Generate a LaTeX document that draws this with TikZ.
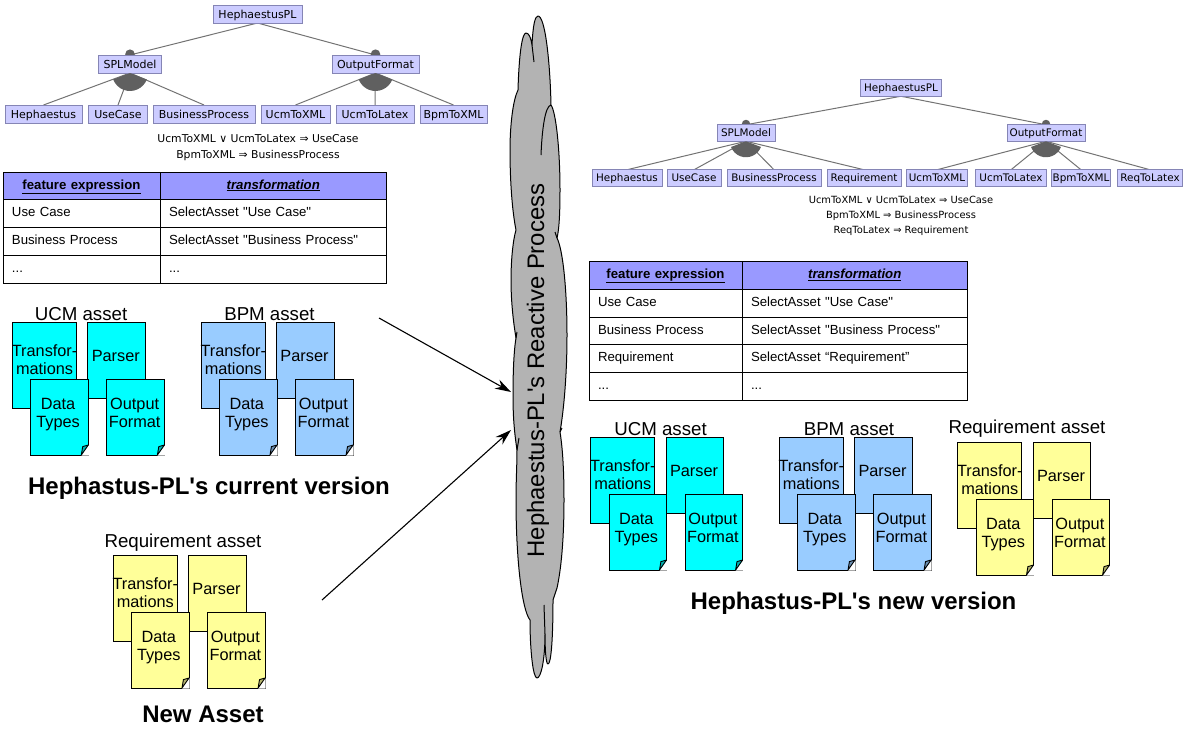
\documentclass[tikz,border=0pt]{standalone}
\usepackage{fontspec}
\setmainfont{Liberation Sans}[Ligatures=TeXOff]
\newfontfamily\djv{DejaVu Sans}
\usetikzlibrary{arrows.meta,backgrounds}
\definecolor{fbox}{HTML}{CCCCFF}
\definecolor{fborder}{HTML}{8585B5}
\definecolor{fline}{HTML}{737373}
\definecolor{fdark}{HTML}{606060}
\definecolor{thead}{HTML}{9999FF}
\definecolor{cyanA}{HTML}{00FFFF}
\definecolor{blueA}{HTML}{99CCFF}
\definecolor{yellowA}{HTML}{FFFF99}
\definecolor{cloudgray}{HTML}{B3B3B3}
\tikzset{
  x=1pt,y=-1pt,
  fnode/.style={draw=fborder,fill=fbox,line width=0.9pt,inner sep=0pt,outer sep=0pt,text=black},
  bigtree/.style={fnode,minimum height=18pt,text height=10.6pt,text depth=2pt,font=\djv\fontsize{11}{12}\selectfont},
  smalltree/.style={fnode,minimum height=16.5pt,text height=9.6pt,text depth=2pt,font=\djv\fontsize{10.4}{11}\selectfont},
  fline/.style={draw=fline,line width=1pt},
  cons/.style={inner sep=0pt,font=\djv\fontsize{#1}{12}\selectfont},
  cell/.style={draw=black,line width=1pt,anchor=north west,text width=#1pt,inner xsep=9pt,inner ysep=0pt,outer sep=0pt,minimum height=28pt,text height=10pt,text depth=3pt,align=left,font=\fontsize{13.2}{15}\selectfont},
  hcell/.style={cell=#1,fill=thead,align=center},
  docbox/.style={draw=black,line width=1pt,anchor=north west,inner sep=0pt,outer sep=0pt,align=center,font=\fontsize{16.3}{18}\selectfont,text=black},
  atitle/.style={inner sep=0pt,font=\fontsize{18.7}{20}\selectfont},
  bigtitle/.style={inner sep=0pt,font=\bfseries\fontsize{24}{26}\selectfont},
  bigarrow/.style={draw=black,line width=1.1pt,-{Stealth[length=16pt,width=10pt]}},
}
\newcommand{\foldcorner}[3]{% x y colour : bottom right corner of a page
  \fill[white] (#1,#2)++(-7,0.6) -- ++(7.6,-10.6) -- ++(0,10.6) -- cycle;
  \draw[line width=0.9pt,fill=#3!70!black,line join=round] (#1,#2)++(-7,0) -- ++(7,-10) -- ++(-5.6,1.6) -- cycle;
}
\newcommand{\docpage}[6]{% name, x offset, y offset, height, colour, text
  \node[docbox,fill=#5,minimum width=57.5pt,minimum height=#4pt] (#1) at (#2,#3) {#6};
}
\newcommand{\assetgroup}[4]{% prefix, x, y, colour
  \begin{scope}[shift={(#2,#3)}]
    \node[docbox,fill=#4,minimum width=64.3pt,minimum height=86pt] (#1-tr) at (0,0) {};
    \docpage{#1-pa}{75.5}{0}{76}{#4}{}
    \node[inner sep=0pt,align=center,font=\fontsize{16.3}{18}\selectfont] (#1-trt) at (32.3,38) {Transfor-\\mations};
    \node[inner sep=0pt,font=\fontsize{16.3}{18}\selectfont] (#1-pat) at (103.5,34) {Parser};
    \docpage{#1-dt}{18.5}{57}{76}{#4}{\rule{0pt}{13pt}Data\hspace*{3pt}\\Types\hspace*{3pt}\rule[-10pt]{0pt}{10pt}}
    \foldcorner{76}{133}{#4}
    \docpage{#1-of}{94.6}{57}{76}{#4}{\rule{0pt}{13pt}Output\hspace*{2pt}\\Format\hspace*{2pt}\rule[-10pt]{0pt}{10pt}}
    \foldcorner{152.100}{133}{#4}
  \end{scope}
}
\newcommand{\fanout}[2]{% apex node, radius: the grey sector under a group
  \fill[fdark] (#1.south) -- ++(21:#2) arc[start angle=21,end angle=159,radius=#2] -- cycle;
}
\newcommand{\mandot}[2]{% node, radius: the dot on top of a mandatory feature
  \fill[fdark] (#1.north)++(0,-0.8) circle[radius=#2];
}
\begin{document}
\begin{tikzpicture}
\useasboundingbox (0,0) rectangle (1192,734);
% ---- left feature tree
\node[bigtree,minimum width=89pt] (lroot) at (257.5,14) {HephaestusPL};
\node[bigtree,minimum width=63pt] (lspl) at (130,64) {SPLModel};
\node[bigtree,minimum width=87pt] (lof) at (375.5,64) {OutputFormat};
\node[bigtree,minimum width=77pt] (lhep) at (43.5,114) {Hephaestus};
\node[bigtree,minimum width=59pt] (luc) at (118,114) {UseCase};
\node[bigtree,minimum width=102pt] (lbp) at (204,114) {BusinessProcess};
\node[bigtree,minimum width=69pt] (lux) at (295.5,114) {UcmToXML};
\node[bigtree,minimum width=78pt] (lul) at (375,114) {UcmToLatex};
\node[bigtree,minimum width=67pt] (lbx) at (453.5,114) {BpmToXML};
\begin{scope}[on background layer]
\draw[fline] (lroot.south) -- (lspl.north);
\draw[fline] (lroot.south) -- (lof.north);
\mandot{lspl}{4.8}\mandot{lof}{4.8}
\foreach \c in {lhep,luc,lbp} \draw[fline] (lspl.south) -- (\c.north);
\foreach \c in {lux,lul,lbx} \draw[fline] (lof.south) -- (\c.north);
\end{scope}
\fanout{lspl}{18}\fanout{lof}{18}
\node[cons=10.8] (lc1) at (258,139) {UcmToXML ∨ UcmToLatex ⇒ UseCase};
\node[cons=10.8] (lc2) at (258,155.500) {BpmToXML ⇒ BusinessProcess};
% ---- left table
\node[hcell=139,minimum height=27pt] (lt11) at (3,172) {\textbf{\underline{feature expression}}};
\node[hcell=208.5,minimum height=27pt] (lt12) at (160,172) {\textbf{\textit{\underline{transformation}}}};
\node[cell=139] (lt21) at (3,199) {Use Case};
\node[cell=208.5] (lt22) at (160,199) {SelectAsset "Use Case"};
\node[cell=139] (lt31) at (3,227) {Business Process};
\node[cell=208.5] (lt32) at (160,227) {SelectAsset "Business Process"};
\node[cell=139] (lt41) at (3,255) {...};
\node[cell=208.5] (lt42) at (160,255) {...};
% ---- left assets
\node[atitle] (lucm) at (81,314) {UCM asset};
\node[atitle] (lbpm) at (269.500,314) {BPM asset};
\assetgroup{lu}{12.3}{322}{cyanA}
\assetgroup{lb}{201}{322}{blueA}
\node[bigtitle] (lcur) at (209,488.500) {Hephastus-PL's current version};
\node[atitle] (lreq) at (183,542.500) {Requirement asset};
\assetgroup{ln}{113}{555}{yellowA}
\node[bigtitle] (lnew) at (203,714) {New Asset};
% ---- cloud
\draw[line width=1pt,fill=cloudgray,line join=round] (518,90)
  .. controls (519,55) and (522,33) .. (526,33) .. controls (529,33) and (531,38) .. (532,45)
  .. controls (533,25) and (535,16) .. (538,16) .. controls (545,16) and (550,60) .. (551,105)
  .. controls (556,112) and (560,150) .. (560,190) .. controls (560,215) and (559,230) .. (557,238)
  .. controls (563,250) and (567,290) .. (567,335) .. controls (567,380) and (563,415) .. (560,432)
  .. controls (563,450) and (564,475) .. (564,500) .. controls (564,540) and (561,570) .. (557,588)
  -- (553,600) .. controls (553,640) and (551,664) .. (548,664) .. controls (546,664) and (545,650) .. (545,634)
  .. controls (545,660) and (541,678) .. (537,678) .. controls (533,678) and (530,650) .. (530,620)
  .. controls (522,610) and (516,560) .. (516,500) .. controls (516,480) and (517,465) .. (517,450)
  .. controls (514,430) and (513,415) .. (513,395) .. controls (513,370) and (514,350) .. (516,338)
  .. controls (513,320) and (511,300) .. (511,280) .. controls (511,260) and (513,240) .. (516,230)
  .. controls (512,210) and (510,180) .. (510,150) .. controls (510,125) and (513,100) .. (518,90) -- cycle;
\draw[line width=1pt] (532,45) -- (534,62);
\draw[line width=1pt] (541,155) .. controls (542,130) and (545,106) .. (551,105);
\draw[line width=1pt] (557,238) -- (555,232);
\draw[line width=1pt] (545,634) -- (544,605);
\draw[line width=1pt] (517,450) -- (519,438);
\draw[line width=1pt] (560,432) -- (562,428);
\draw[line width=1pt] (516,338) -- (517,332);
\node[rotate=90,inner sep=0pt,font=\fontsize{23.9}{26}\selectfont] (cloudtext) at (538,370.500) {Hephaestus-PL's Reactive Process};
% ---- arrows
\coordinate (fromcur) at (379,318);
\coordinate (tocloudA) at (511,392);
\coordinate (fromnew) at (322,600);
\coordinate (tocloudB) at (511,430);
\draw[bigarrow] (fromcur) -- (tocloudA);
\draw[bigarrow] (fromnew) -- (tocloudB);
% ---- right feature tree
\node[smalltree,minimum width=81pt] (rroot) at (901,88) {HephaestusPL};
\node[smalltree,minimum width=58pt] (rspl) at (746,133) {SPLModel};
\node[smalltree,minimum width=78pt] (rof) at (1046,133) {OutputFormat};
\node[smalltree,minimum width=70pt] (rhep) at (627,178) {Hephaestus};
\node[smalltree,minimum width=54pt] (ruc) at (694,178) {UseCase};
\node[smalltree,minimum width=94pt] (rbp) at (774,178) {BusinessProcess};
\node[smalltree,minimum width=74pt] (rrq) at (864,178) {Requirement};
\node[smalltree,minimum width=61pt] (rux) at (937,178) {UcmToXML};
\node[smalltree,minimum width=71pt] (rul) at (1011,178) {UcmToLatex};
\node[smalltree,minimum width=59pt] (rbx) at (1081,178) {BpmToXML};
\node[smalltree,minimum width=65pt] (rrl) at (1150,178) {ReqToLatex};
\begin{scope}[on background layer]
\draw[fline] (rroot.south) -- (rspl.north);
\draw[fline] (rroot.south) -- (rof.north);
\mandot{rspl}{4.2}\mandot{rof}{4.2}
\foreach \c in {rhep,ruc,rbp,rrq} \draw[fline] (rspl.south) -- (\c.north);
\foreach \c in {rux,rul,rbx,rrl} \draw[fline] (rof.south) -- (\c.north);
\end{scope}
\fanout{rspl}{16}\fanout{rof}{16}
\node[cons=9.9] (rc1) at (901,200) {UcmToXML ∨ UcmToLatex ⇒ UseCase};
\node[cons=9.9] (rc2) at (901,215.500) {BpmToXML ⇒ BusinessProcess};
\node[cons=9.9] (rc3) at (901,231) {ReqToLatex ⇒ Requirement};
% ---- right table
\node[hcell=135] (rt11) at (589,261) {\textbf{\underline{feature expression}}};
\node[hcell=207.5] (rt12) at (742,261) {\textbf{\textit{\underline{transformation}}}};
\node[cell=135] (rt21) at (589,289) {Use Case};
\node[cell=207.5] (rt22) at (742,289) {SelectAsset "Use Case"};
\node[cell=135,minimum height=27pt] (rt31) at (589,317) {Business Process};
\node[cell=207.5,minimum height=27pt] (rt32) at (742,317) {SelectAsset "Business Process"};
\node[cell=135] (rt41) at (589,344) {Requirement};
\node[cell=207.5] (rt42) at (742,344) {SelectAsset “Requirement”};
\node[cell=135] (rt51) at (589,372) {...};
\node[cell=207.5] (rt52) at (742,372) {...};
% ---- right assets
\node[atitle] (rucm) at (660.500,429) {UCM asset};
\node[atitle] (rbpm) at (849,429) {BPM asset};
\node[atitle] (rreq) at (1027,428.500) {Requirement asset};
\assetgroup{ru}{590.5}{437}{cyanA}
\assetgroup{rb}{779}{437}{blueA}
\assetgroup{rr}{957.5}{442}{yellowA}
\node[bigtitle] (rnew) at (853.500,603.500) {Hephastus-PL's new version};
\end{tikzpicture}
\end{document}
